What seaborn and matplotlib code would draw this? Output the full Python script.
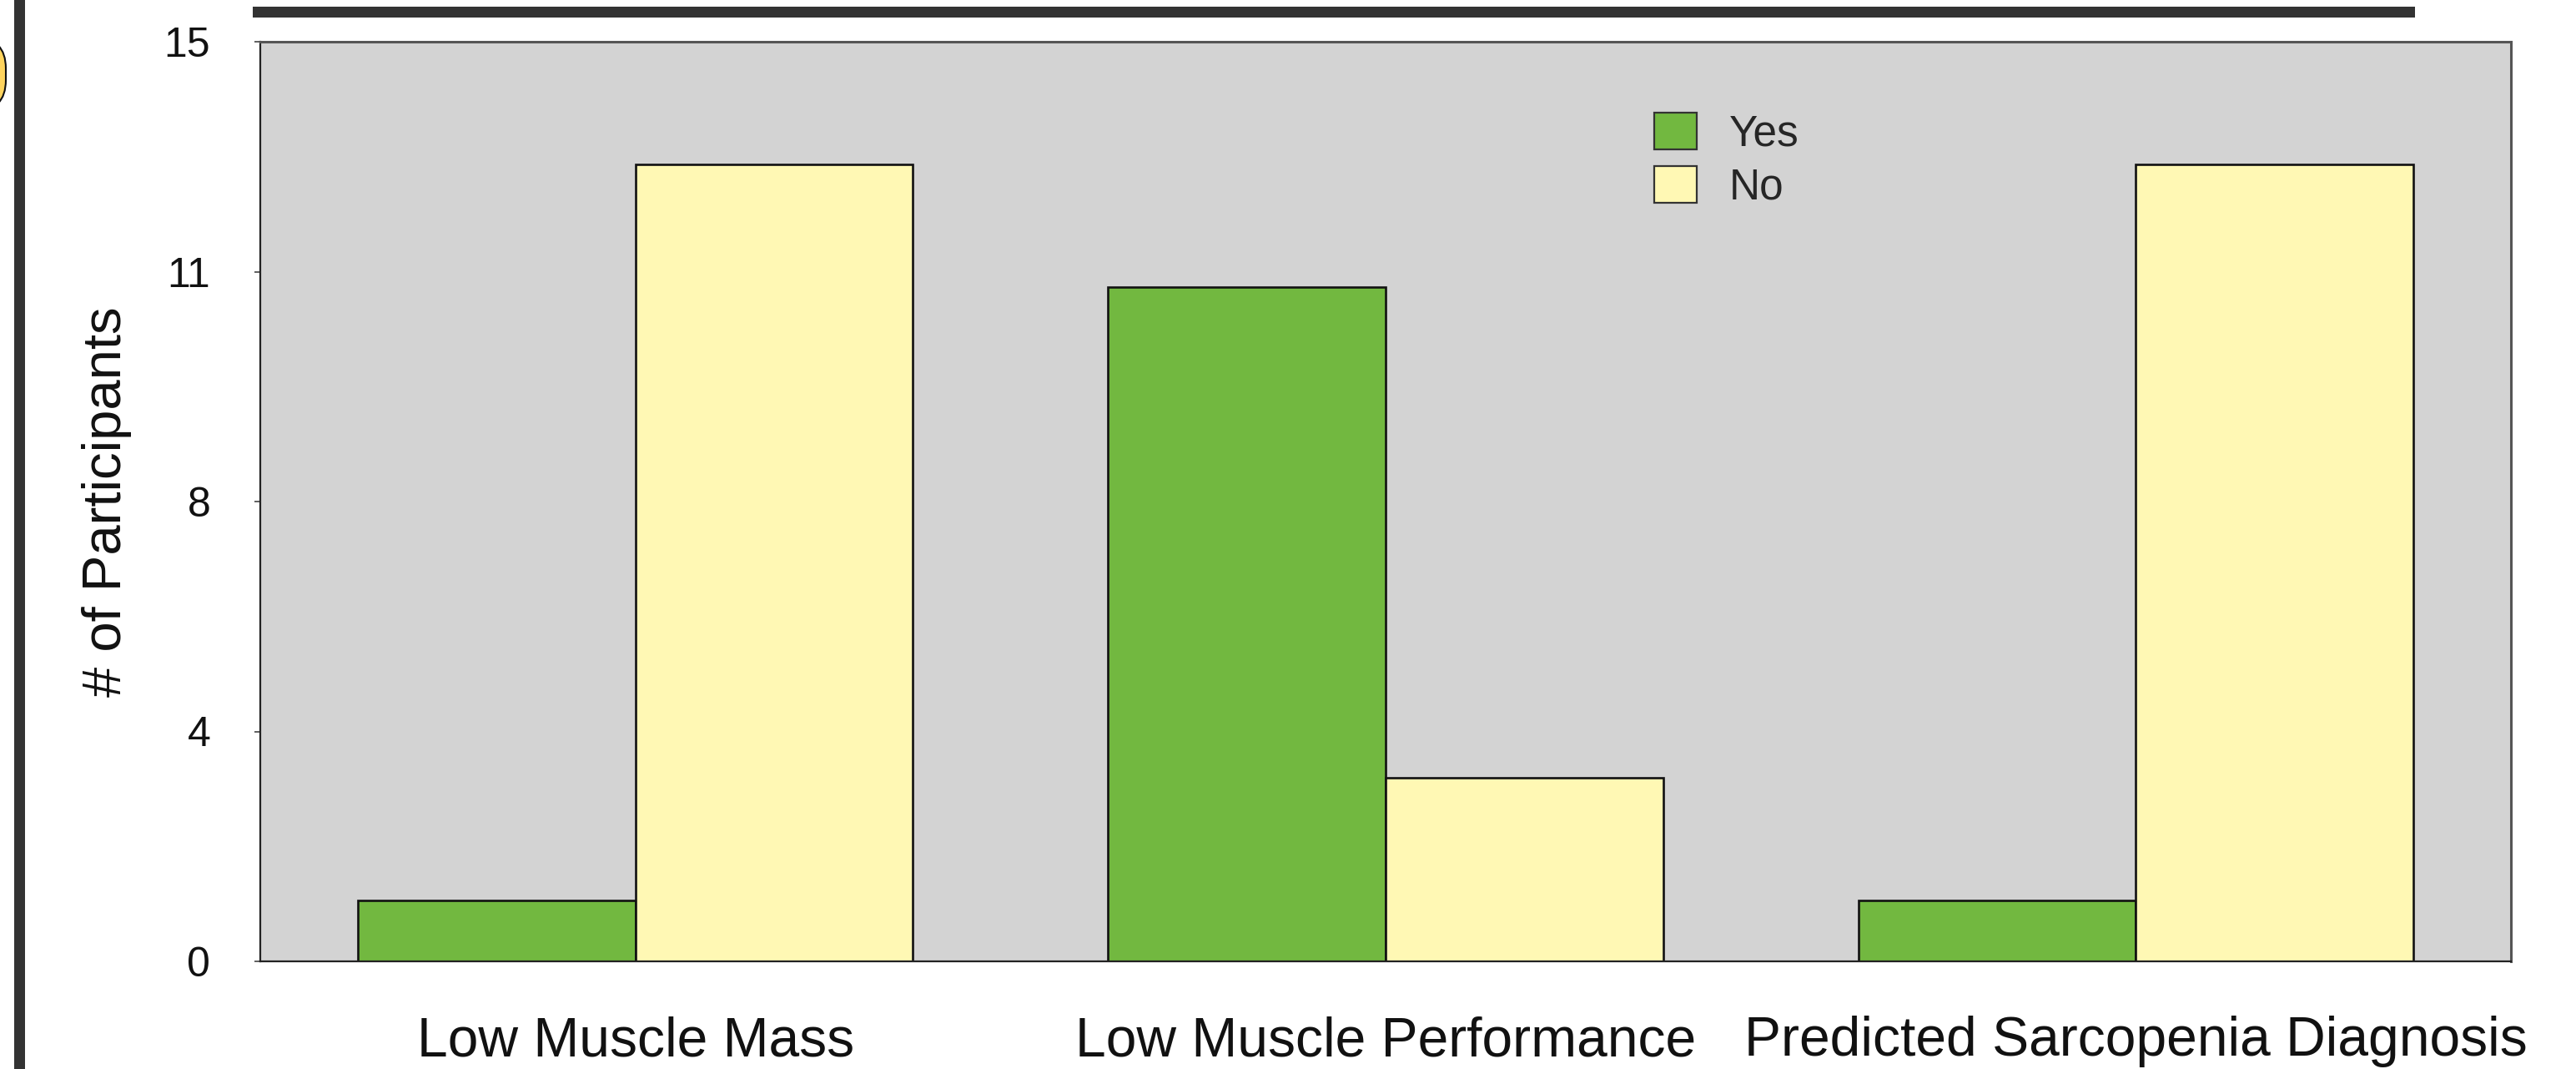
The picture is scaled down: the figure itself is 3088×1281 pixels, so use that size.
import matplotlib
matplotlib.use("Agg")
import matplotlib.pyplot as plt
from matplotlib.patches import Rectangle, FancyBboxPatch, Patch
import seaborn as sns
import pandas as pd

# Participant counts per screening measure
measures = ["Low Muscle Mass", "Low Muscle Performance", "Predicted Sarcopenia Diagnosis"]
yes_counts = [1, 11, 1]
no_counts = [13, 3, 13]
responses = ["Yes", "No"]
colors = {"Yes": "#72B840", "No": "#FFF8B4"}
ytick_values = [0, 3.75, 7.5, 11.25, 15]
ytick_labels = ["0", "4", "8", "11", "15"]

df = pd.DataFrame({
    "Measure": measures * 2,
    "Response": ["Yes"] * len(measures) + ["No"] * len(measures),
    "Count": yes_counts + no_counts,
})

sns.set_theme(style="white")
plt.rcParams["font.family"] = ["Liberation Sans", "DejaVu Sans"]

W, H, DPI = 3088, 1281, 100
fig = plt.figure(figsize=(W / DPI, H / DPI), dpi=DPI)
ax = fig.add_axes([312 / W, 1 - 1152 / H, (3010 - 312) / W, (1152 - 50) / H])
ax.set_facecolor("#D3D3D3")

sns.barplot(data=df, x="Measure", y="Count", hue="Response", hue_order=responses,
            palette=colors, width=0.74, edgecolor="#111111", linewidth=1.9,
            saturation=1, ax=ax, legend=False)

ax.set_xlim(-0.5, 2.5)
ax.set_ylim(0, 15)
ax.set_yticks(ytick_values, labels=ytick_labels)
ax.set_xticks(range(len(measures)), labels=measures)
ax.set_xticks([-0.5, 0.5, 1.5, 2.5], minor=True)
ax.tick_params(axis="x", which="major", length=0, labelsize=47.5, pad=47, colors="#111111")
ax.tick_params(axis="x", which="minor", length=5, width=1.2, direction="out", color="#444444")
ax.tick_params(axis="y", which="major", length=5, width=1.2, direction="out",
               labelsize=36, pad=38, color="#444444", labelcolor="#111111", left=True)
ax.set_xlabel("")
ax.set_ylabel("# of Participants", fontsize=47, color="#111111", labelpad=28)

for side in ["left", "bottom"]:
    ax.spines[side].set_color("#222222")
    ax.spines[side].set_linewidth(1.6)
for side in ["top", "right"]:
    ax.spines[side].set_color("#555555")
    ax.spines[side].set_linewidth(2.2)

handles = [Patch(facecolor=colors[r], edgecolor="#333333", linewidth=1.6) for r in responses]
ax.legend(handles, responses, loc="upper left", bbox_to_anchor=(1983 / W, 1 - 135 / H),
          bbox_transform=fig.transFigure, frameon=False, fontsize=37,
          handlelength=1.0, handleheight=0.95, handletextpad=0.75,
          labelspacing=0.25, borderpad=0, borderaxespad=0)

# Frame pieces around the chart panel
fig.patches.append(Rectangle((303 / W, 1 - 21 / H), (2895 - 303) / W, 13 / H,
                             transform=fig.transFigure, facecolor="#333333",
                             edgecolor="none", zorder=5))
fig.patches.append(Rectangle((17 / W, 0), 13 / W, 1, transform=fig.transFigure,
                             facecolor="#333333", edgecolor="none", zorder=5))
fig.patches.append(FancyBboxPatch((-40 / W, 1 - 133 / H), 47 / W, 88 / H,
                                  boxstyle="round,pad=0,rounding_size=0.012",
                                  transform=fig.transFigure, facecolor="#FFD45E",
                                  edgecolor="#111111", linewidth=1.5, zorder=5,
                                  mutation_aspect=W / H))

fig.savefig("out.png", dpi=DPI, facecolor="white")
